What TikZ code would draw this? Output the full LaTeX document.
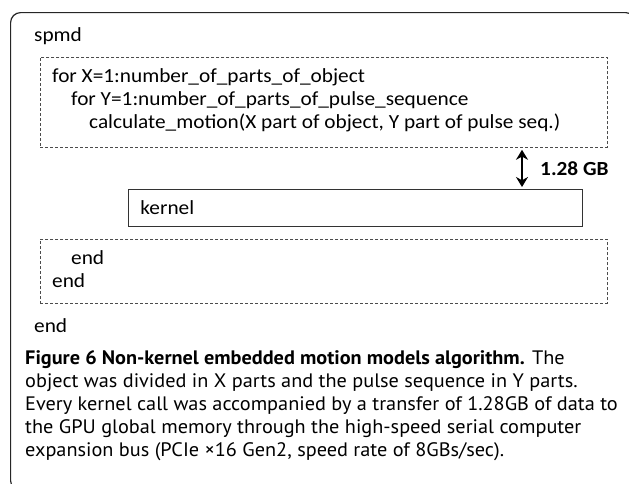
\documentclass[tikz,border=0pt]{standalone}
\usepackage{fontspec}
\setmainfont{Carlito}
\newfontfamily\codefamily[FakeStretch=1.065]{Carlito}
\newfontfamily\capfont[FakeStretch=1.04]{PT Sans}
\usepackage{tikz}
\usetikzlibrary{arrows.meta, positioning}
\newcommand\codefont{\codefamily\fontsize{20}{23}\selectfont}
\tikzset{
    outerframe/.style={rectangle, draw=black!85, line width=1.2pt, rounded corners=10pt, anchor=north west, inner sep=0pt, minimum width=625pt, minimum height=478pt},
    loopbox/.style={rectangle, draw=black!70, line width=0.8pt, dash pattern=on 3pt off 2pt, anchor=north west, minimum width=567pt, inner sep=0pt},
    kernelbox/.style={rectangle, draw=black!80, line width=0.9pt, anchor=north west, minimum width=454pt, minimum height=37pt, text width=430pt, align=left, inner xsep=12pt, font=\codefont},
    codeline/.style={anchor=base west, inner sep=0pt, font=\codefont},
    xfer/.style={line width=2.2pt, shorten >=2pt, shorten <=2pt, {Stealth[length=10pt,width=12pt]}-{Stealth[length=10pt,width=12pt]}},
    captext/.style={anchor=north west, inner sep=0pt, align=left, font=\capfont\fontsize{19.5}{23}\selectfont}
}

\begin{document}
\begin{tikzpicture}[x=1pt, y=-1pt]
    \useasboundingbox (0,0) rectangle (629,483);
    % Frame
    \node (outer) [outerframe] at (10,12) {};
    \node (spmd_open) [codeline] at (34,41) {spmd};
    % Loops
    \node (loop_head) [loopbox, minimum height=90pt] at (40,57) {};
    \node (for_x) [codeline] at (52,82) {for X=1:number\_of\_parts\_of\_object};
    \node (for_y) [codeline] at (71,105) {for Y=1:number\_of\_parts\_of\_pulse\_sequence};
    \node (calc) [codeline] at (89,128) {calculate\_motion(X part of object, Y part of pulse seq.)};
    % Kernel
    \node (kernel_box) [kernelbox] at (128,189) {kernel};
    \coordinate (xfer_x) at (522,0);
    \draw [xfer] (loop_head.south -| xfer_x) -- (kernel_box.north -| xfer_x);
    \node (gb_label) [codeline, font=\codefont\bfseries] at (540,175.5) {1.28 GB};
    % Loop ends
    \node (loop_tail) [loopbox, minimum height=64pt] at (40,239) {};
    \node (end_y) [codeline] at (71,264) {end};
    \node (end_x) [codeline] at (52,287) {end};
    \node (spmd_close) [codeline] at (34,332) {end};
    % Caption
    \node (caption) [captext] at (25,350) {\textbf{Figure 6 Non-kernel embedded motion models algorithm.} The\\
        object was divided in X parts and the pulse sequence in Y parts.\\
        Every kernel call was accompanied by a transfer of 1.28GB of data to\\
        the GPU global memory through the high-speed serial computer\\
        expansion bus (PCIe ×16 Gen2, speed rate of 8GBs/sec).};
\end{tikzpicture}
\end{document}
